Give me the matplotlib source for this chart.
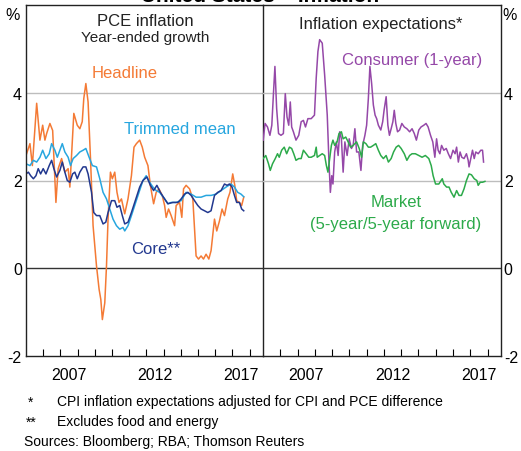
import matplotlib.pyplot as plt
import numpy as np

plt.rcParams['font.family'] = ['Liberation Sans', 'DejaVu Sans']
plt.rcParams['axes.unicode_minus'] = False

# ---- PCE inflation, year-ended growth (%) ----
headline_t = [2005.00, 2005.23, 2005.37, 2005.62, 2005.81, 2005.97, 2006.10, 2006.20, 2006.39, 2006.55,
              2006.74, 2006.87, 2007.07, 2007.26, 2007.45, 2007.55, 2007.78, 2007.98, 2008.13, 2008.27,
              2008.36, 2008.48, 2008.61, 2008.75, 2008.90, 2009.10, 2009.25, 2009.35, 2009.44, 2009.58,
              2009.68, 2009.77, 2009.91, 2010.02, 2010.16, 2010.29, 2010.41, 2010.55, 2010.74, 2010.93,
              2011.13, 2011.28, 2011.42, 2011.61, 2011.76, 2011.90, 2012.09, 2012.23, 2012.42, 2012.57,
              2012.73, 2012.92, 2013.06, 2013.15, 2013.29, 2013.44, 2013.64, 2013.73, 2013.93, 2014.06,
              2014.16, 2014.31, 2014.51, 2014.70, 2014.89, 2015.03, 2015.18, 2015.32, 2015.47, 2015.63,
              2015.76, 2015.96, 2016.09, 2016.25, 2016.40, 2016.54, 2016.73, 2016.86, 2017.02, 2017.14,
              2017.25, 2017.41, 2017.54, 2017.66]
headline = [2.57, 2.84, 2.34, 3.76, 2.92, 3.26, 2.92, 3.07, 3.30, 3.14,
            1.50, 2.27, 2.50, 2.19, 2.27, 1.85, 3.53, 3.26, 3.18, 3.34,
            3.87, 4.21, 3.79, 2.50, 0.97, 0.05, -0.48, -0.71, -1.17, -0.79,
            0.05, 1.12, 2.19, 2.04, 2.19, 1.73, 1.50, 1.58, 1.24, 1.58,
            2.11, 2.76, 2.84, 2.92, 2.76, 2.53, 2.34, 1.89, 1.47, 1.73,
            1.81, 1.66, 1.43, 1.16, 1.35, 1.20, 0.97, 1.43, 1.50, 1.16,
            1.81, 1.89, 1.81, 1.58, 0.28, 0.21, 0.28, 0.21, 0.32, 0.21,
            0.40, 1.12, 0.85, 1.08, 1.35, 1.20, 1.58, 1.73, 2.15, 1.89,
            1.54, 1.50, 1.43, 1.62]

trimmed_t = [2005.00, 2005.23, 2005.43, 2005.62, 2005.81, 2005.97, 2006.16, 2006.35, 2006.49, 2006.68,
             2006.82, 2006.97, 2007.11, 2007.26, 2007.45, 2007.59, 2007.74, 2007.94, 2008.13, 2008.32,
             2008.48, 2008.67, 2008.86, 2009.10, 2009.29, 2009.48, 2009.68, 2009.87, 2010.06, 2010.26,
             2010.45, 2010.64, 2010.74, 2010.93, 2011.13, 2011.32, 2011.57, 2011.80, 2011.99, 2012.19,
             2012.38, 2012.57, 2012.77, 2013.06, 2013.25, 2013.44, 2013.73, 2014.02, 2014.31, 2014.60,
             2014.89, 2015.18, 2015.47, 2015.76, 2016.05, 2016.34, 2016.63, 2016.92, 2017.12, 2017.31,
             2017.50, 2017.66]
trimmed = [2.38, 2.34, 2.46, 2.42, 2.53, 2.69, 2.50, 2.61, 2.84, 2.69,
           2.53, 2.69, 2.84, 2.65, 2.53, 2.34, 2.50, 2.57, 2.65, 2.69,
           2.73, 2.53, 2.34, 2.31, 2.04, 1.73, 1.58, 1.35, 1.12, 0.97,
           0.89, 0.93, 0.85, 0.97, 1.20, 1.43, 1.73, 2.00, 2.11, 1.96,
           1.85, 1.77, 1.73, 1.58, 1.47, 1.50, 1.50, 1.54, 1.73, 1.69,
           1.62, 1.62, 1.66, 1.66, 1.69, 1.77, 1.85, 1.92, 1.85, 1.73,
           1.69, 1.63]

core_t = [2005.00, 2005.14, 2005.27, 2005.43, 2005.58, 2005.71, 2005.85, 2006.00, 2006.16, 2006.35,
          2006.49, 2006.62, 2006.78, 2006.97, 2007.11, 2007.26, 2007.40, 2007.55, 2007.71, 2007.84,
          2007.98, 2008.13, 2008.32, 2008.48, 2008.61, 2008.81, 2008.94, 2009.10, 2009.29, 2009.48,
          2009.64, 2009.77, 2009.97, 2010.16, 2010.29, 2010.45, 2010.60, 2010.74, 2010.93, 2011.13,
          2011.42, 2011.61, 2011.80, 2012.03, 2012.23, 2012.42, 2012.61, 2012.81, 2013.06, 2013.25,
          2013.54, 2013.83, 2014.02, 2014.22, 2014.41, 2014.60, 2014.80, 2014.99, 2015.18, 2015.38,
          2015.57, 2015.76, 2015.96, 2016.15, 2016.34, 2016.54, 2016.69, 2016.83, 2016.98, 2017.12,
          2017.25, 2017.41, 2017.54, 2017.66]
core = [2.15, 2.19, 2.11, 2.04, 2.11, 2.27, 2.15, 2.27, 2.15, 2.34,
        2.46, 2.27, 2.08, 2.23, 2.42, 2.19, 2.00, 1.96, 2.15, 2.19,
        2.04, 2.19, 2.31, 2.31, 2.15, 1.73, 1.27, 1.20, 1.20, 1.01,
        1.05, 1.27, 1.54, 1.54, 1.39, 1.43, 1.20, 1.01, 1.05, 1.27,
        1.62, 1.85, 2.00, 2.08, 1.89, 1.77, 1.89, 1.73, 1.58, 1.47,
        1.50, 1.50, 1.58, 1.69, 1.73, 1.66, 1.54, 1.43, 1.35, 1.31,
        1.27, 1.31, 1.66, 1.73, 1.77, 1.92, 1.89, 1.92, 1.85, 1.66,
        1.50, 1.50, 1.35, 1.31]

# ---- Inflation expectations (%) ----
consumer_t = [2005.01, 2005.12, 2005.26, 2005.40, 2005.51, 2005.61, 2005.69, 2005.79, 2005.90, 2006.04,
              2006.18, 2006.29, 2006.39, 2006.49, 2006.58, 2006.66, 2006.76, 2006.91, 2007.07, 2007.21,
              2007.34, 2007.46, 2007.60, 2007.79, 2007.98, 2008.08, 2008.18, 2008.28, 2008.43, 2008.57,
              2008.72, 2008.82, 2008.90, 2008.98, 2009.05, 2009.15, 2009.25, 2009.35, 2009.44, 2009.54,
              2009.64, 2009.74, 2009.87, 2009.99, 2010.12, 2010.22, 2010.32, 2010.42, 2010.55, 2010.67,
              2010.77, 2010.90, 2011.00, 2011.10, 2011.19, 2011.29, 2011.39, 2011.49, 2011.58, 2011.68,
              2011.82, 2011.93, 2012.01, 2012.13, 2012.23, 2012.32, 2012.42, 2012.52, 2012.60, 2012.69,
              2012.79, 2012.91, 2013.04, 2013.18, 2013.33, 2013.49, 2013.63, 2013.76, 2013.88, 2014.02,
              2014.15, 2014.31, 2014.44, 2014.56, 2014.70, 2014.83, 2014.95, 2015.05, 2015.14, 2015.24,
              2015.34, 2015.47, 2015.61, 2015.73, 2015.86, 2016.00, 2016.12, 2016.21, 2016.31, 2016.41,
              2016.51, 2016.64, 2016.78, 2016.88, 2016.93, 2017.03, 2017.13, 2017.23, 2017.32, 2017.46,
              2017.61, 2017.71, 2017.77]
consumer = [2.92, 3.30, 3.22, 3.03, 3.26, 4.02, 4.60, 3.64, 3.07, 3.03,
            3.07, 3.98, 3.45, 3.26, 3.79, 3.22, 3.11, 2.92, 3.03, 3.34,
            3.37, 3.22, 3.41, 3.41, 3.49, 4.33, 4.94, 5.21, 5.13, 4.40,
            3.49, 2.42, 1.73, 2.11, 1.92, 2.65, 2.88, 2.57, 3.11, 2.95,
            2.19, 2.88, 2.57, 2.95, 2.73, 2.80, 3.18, 2.65, 2.65, 2.23,
            2.80, 3.03, 3.26, 3.87, 4.60, 4.21, 3.72, 3.49, 3.41, 3.26,
            3.15, 3.34, 3.60, 3.91, 3.26, 3.03, 3.18, 3.34, 3.60, 3.30,
            3.11, 3.15, 3.30, 3.22, 3.18, 3.11, 3.18, 3.07, 2.92, 3.15,
            3.22, 3.26, 3.30, 3.22, 3.03, 2.88, 2.53, 2.95, 2.69, 2.61,
            2.80, 2.69, 2.73, 2.61, 2.50, 2.69, 2.61, 2.76, 2.42, 2.65,
            2.53, 2.50, 2.61, 2.46, 2.31, 2.50, 2.69, 2.50, 2.65, 2.61,
            2.69, 2.69, 2.42]

market_t = [2005.01, 2005.16, 2005.32, 2005.42, 2005.55, 2005.71, 2005.84, 2005.94, 2006.08, 2006.23,
            2006.37, 2006.53, 2006.66, 2006.78, 2006.91, 2007.07, 2007.21, 2007.34, 2007.50, 2007.65,
            2007.79, 2007.98, 2008.08, 2008.14, 2008.28, 2008.43, 2008.57, 2008.67, 2008.76, 2008.86,
            2008.96, 2009.05, 2009.15, 2009.29, 2009.40, 2009.54, 2009.64, 2009.79, 2009.93, 2010.07,
            2010.22, 2010.42, 2010.57, 2010.71, 2010.81, 2010.96, 2011.10, 2011.23, 2011.39, 2011.53,
            2011.68, 2011.82, 2011.97, 2012.13, 2012.26, 2012.42, 2012.56, 2012.71, 2012.85, 2013.00,
            2013.18, 2013.33, 2013.49, 2013.63, 2013.82, 2014.02, 2014.21, 2014.40, 2014.60, 2014.74,
            2014.85, 2014.99, 2015.18, 2015.38, 2015.47, 2015.63, 2015.77, 2015.90, 2016.06, 2016.21,
            2016.35, 2016.49, 2016.64, 2016.78, 2016.93, 2017.07, 2017.23, 2017.38, 2017.46, 2017.58,
            2017.71, 2017.85]
market = [2.50, 2.57, 2.38, 2.23, 2.38, 2.50, 2.61, 2.53, 2.69, 2.76,
          2.61, 2.76, 2.73, 2.61, 2.46, 2.50, 2.50, 2.69, 2.61, 2.53,
          2.53, 2.57, 2.76, 2.53, 2.57, 2.61, 2.57, 2.34, 2.19, 2.50,
          2.80, 2.92, 2.80, 2.88, 3.07, 3.11, 2.95, 2.99, 2.88, 2.76,
          2.80, 2.88, 2.73, 2.53, 2.88, 2.84, 2.76, 2.76, 2.80, 2.84,
          2.69, 2.57, 2.50, 2.57, 2.42, 2.50, 2.65, 2.76, 2.80, 2.73,
          2.61, 2.46, 2.57, 2.61, 2.61, 2.57, 2.53, 2.57, 2.50, 2.34,
          2.11, 1.92, 1.92, 2.04, 1.92, 1.85, 1.85, 1.73, 1.62, 1.77,
          1.66, 1.66, 1.81, 2.00, 2.15, 2.13, 2.04, 2.00, 1.89, 1.96,
          1.96, 1.98]

year_labels = ['2007', '2012', '2017']
yticks = [-2, 0, 2, 4]

c_head = '#F47A35'
c_trim = '#27A6DF'
c_core = '#22388F'
c_cons = '#9548A8'
c_mkt = '#2CAA4A'

fig = plt.figure(figsize=(5.21, 4.52), dpi=100)
axl = fig.add_axes([26/521, 95/452, 237/521, 351/452])
axr = fig.add_axes([263/521, 95/452, 238/521, 351/452])
axr.patch.set_visible(False)

for ax in (axl, axr):
    ax.set_xlim(2005, 2018.78)
    ax.set_ylim(-2, 6)
    for v in (2, 4):
        ax.axhline(v, color='#BDBDBD', lw=1.0, zorder=1)
    ax.axhline(0, color='#333333', lw=1.0, zorder=1)
    ax.set_xticks([2007.5, 2012.5, 2017.5])
    ax.set_xticklabels(year_labels, fontsize=11.5)
    ax.set_xticks(np.arange(2006, 2019), minor=True)
    ax.tick_params(axis='x', which='major', length=0, pad=8)
    ax.tick_params(axis='x', which='minor', direction='in', length=5, width=0.8)
    ax.set_yticks(yticks)
    ax.tick_params(axis='y', length=0, labelsize=11.5)
    for s in ax.spines.values():
        s.set_linewidth(1.0)
        s.set_color('#222222')
        s.set_zorder(6)

axl.yaxis.tick_left()
axl.tick_params(axis='y', pad=3)
axr.yaxis.tick_right()
axr.tick_params(axis='y', pad=2)
axr.spines['left'].set_visible(False)

axl.plot(headline_t, headline, color=c_head, lw=1.1, zorder=3)
axl.plot(trimmed_t, trimmed, color=c_trim, lw=1.1, zorder=4)
axl.plot(core_t, core, color=c_core, lw=1.1, zorder=5)

axr.plot(consumer_t, consumer, color=c_cons, lw=1.1, zorder=3)
axr.plot(market_t, market, color=c_mkt, lw=1.1, zorder=4)

# panel titles and series labels
fig.text(145/521, 1 - 21/452, 'PCE inflation', ha='center', va='center', fontsize=12, color='#222222')
fig.text(145/521, 1 - 38/452, 'Year-ended growth', ha='center', va='center', fontsize=11, color='#222222')
fig.text(381/521, 1 - 25/452, 'Inflation expectations*', ha='center', va='center', fontsize=12, color='#222222')
fig.text(125/521, 1 - 74/452, 'Headline', ha='center', va='center', fontsize=12, color=c_head)
fig.text(180/521, 1 - 129/452, 'Trimmed mean', ha='center', va='center', fontsize=12, color=c_trim)
fig.text(156/521, 1 - 250/452, 'Core**', ha='center', va='center', fontsize=12, color=c_core)
fig.text(412/521, 1 - 60/452, 'Consumer (1-year)', ha='center', va='center', fontsize=12, color=c_cons)
fig.text(396/521, 1 - 203/452, 'Market', ha='center', va='center', fontsize=12, color=c_mkt)
fig.text(396/521, 1 - 225/452, '(5-year/5-year forward)', ha='center', va='center', fontsize=12, color=c_mkt)

# units and title
fig.text(13/521, 1 - 16/452, '%', ha='center', va='center', fontsize=11.5)
fig.text(510/521, 1 - 16/452, '%', ha='center', va='center', fontsize=11.5)
fig.text(0.5, 1 + 4/452, 'United States \u2013 Inflation', ha='center', va='center',
         fontsize=15, fontweight='bold')

# notes
fig.text(28/521, 1 - 403/452, '*', ha='left', va='center', fontsize=10)
fig.text(57/521, 1 - 402/452, 'CPI inflation expectations adjusted for CPI and PCE difference',
         ha='left', va='center', fontsize=10)
fig.text(26/521, 1 - 423/452, '**', ha='left', va='center', fontsize=10)
fig.text(57/521, 1 - 422/452, 'Excludes food and energy', ha='left', va='center', fontsize=10)
fig.text(24/521, 1 - 442/452, 'Sources: Bloomberg; RBA; Thomson Reuters', ha='left', va='center', fontsize=10)

fig.savefig('out.png', dpi=100)
